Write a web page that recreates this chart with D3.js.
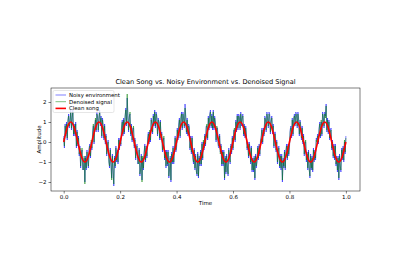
<!DOCTYPE html>
<html><head><meta charset="utf-8">
<script src="https://cdn.jsdelivr.net/npm/d3@7"></script>
<style>body{margin:0;background:#fff}svg{display:block;font-family:"DejaVu Sans",sans-serif}</style>
</head><body>
<svg id="c" width="400" height="280"></svg>
<script>
const title = "Clean Song vs. Noisy Environment vs. Denoised Signal";
const xTicks = [0.0, 0.2, 0.4, 0.6, 0.8, 1.0];
const yTicks = [-2, -1, 0, 1, 2];
const seriesNames = ["Noisy environment", "Denoised signal", "Clean song"];
// clean song sampled every 0.0125 s
const clean = [0,.71,1,.71,0,-.71,-1,-.71, 0,.71,1,.71,0,-.71,-1,-.71, 0,.71,1,.71,0,-.71,-1,-.71,
 0,.71,1,.71,0,-.71,-1,-.71, 0,.71,1,.71,0,-.71,-1,-.71, 0,.71,1,.71,0,-.71,-1,-.71,
 0,.71,1,.71,0,-.71,-1,-.71, 0,.71,1,.71,0,-.71,-1,-.71, 0,.71,1,.71,0,-.71,-1,-.71,
 0,.71,1,.71,0,-.71,-1,-.71, 0];
// noisy environment sampled every 0.0025 s
const noisy = [
 0.3,-0.3,0.9,0.3,1.0,0.1,1.0,1.4,0.7,1.1,1.6,0.6,1.3,1.6,0.3,0.9,0.3,1.0,-0.3,0.6,
 -0.2,0.3,-0.7,-0.2,-1.3,-0.6,-0.4,-1.4,-1.3,-0.8,-2.0,-0.7,-1.4,-0.4,-1.0,-1.3,-0.3,-0.1,-0.8,0.0,
 -0.4,0.5,0.8,-0.1,0.8,1.1,0.5,1.5,1.2,0.5,1.3,1.6,0.8,1.3,0.2,1.2,0.7,0.1,0.9,-0.1,
 0.4,-0.7,-0.1,0.1,-0.9,-1.3,-0.3,-1.1,-1.8,-0.6,-1.5,-2.2,-0.7,-1.3,-0.2,-1.0,-0.4,-1.1,0.2,-0.4,
 0.2,-0.2,0.7,1.1,0.3,1.2,0.4,1.2,1.7,0.8,2.2,1.3,0.5,1.3,1.4,0.3,0.9,0.0,0.7,0.7,
 -0.3,0.2,-0.9,-0.2,-0.1,-1.1,-1.0,-0.3,-1.7,-1.3,-0.6,-1.9,-0.8,-1.4,-0.5,-0.1,-1.0,-0.2,-0.8,0.2,
 0.5,-0.1,0.5,0.0,1.2,1.0,0.4,1.4,0.8,1.6,0.7,1.5,1.3,0.3,1.2,0.9,0.1,1.1,0.1,0.5,
 -0.5,0.1,0.2,-0.9,-0.4,-1.3,-0.4,-1.2,-0.4,-1.8,-1.4,-0.7,-2.0,-0.5,-1.1,-0.2,-1.1,-0.3,0.3,-0.5,
 -0.3,0.7,0.1,0.9,1.2,0.2,1.1,1.5,0.6,1.5,1.2,0.7,1.9,1.3,0.4,1.2,0.3,0.9,0.8,-0.4,
 0.3,-0.6,0.3,-0.7,-1.1,-0.3,-1.4,-0.6,-1.4,-1.7,-0.5,-1.8,-0.7,-1.2,-0.4,-1.2,0.0,-0.9,0.0,-0.4,
 0.4,-0.2,0.8,0.8,0.1,1.3,0.6,1.4,1.6,0.7,1.4,0.6,1.6,0.6,1.3,1.0,0.0,0.7,0.7,-0.2,
 -0.3,0.4,-0.5,-0.1,-1.2,-0.4,-1.2,-0.4,-1.9,-0.7,-1.6,-0.6,-1.3,-1.7,-0.3,-0.9,-1.1,-0.1,-0.6,0.3,
 -0.4,0.6,0.6,0.0,1.1,0.5,1.4,0.6,1.4,1.3,0.6,1.5,0.8,1.3,1.4,0.3,0.9,0.2,0.8,0.4,
 -0.4,0.0,-0.8,0.0,-0.3,-1.1,-0.2,-1.5,-0.8,-1.5,-0.7,-1.9,-0.6,-1.3,-1.0,-0.2,-0.9,-0.1,-0.7,0.0,
 0.3,0.7,-0.1,0.7,0.3,1.3,1.2,0.5,1.5,1.2,0.7,1.5,1.4,0.4,1.1,1.3,0.4,0.9,-0.3,0.5,
 0.5,-0.5,0.1,-1.1,-0.4,-0.2,-1.3,-0.6,-1.4,-0.6,-2.0,-0.8,-1.3,-0.4,-1.4,-0.4,-0.1,-0.9,-0.1,-0.7,
 -0.3,0.6,0.8,0.2,1.2,0.3,1.1,1.4,0.8,1.5,1.4,0.7,1.5,1.2,0.3,1.1,0.8,0.1,0.8,-0.1,
 0.4,-0.7,0.0,0.0,-1.0,-0.5,-1.4,-0.4,-1.3,-1.8,-0.6,-1.4,-0.7,-1.5,-0.3,-1.0,-0.4,-0.9,0.2,0.1,
 0.4,-0.1,0.7,1.0,0.2,1.0,0.3,1.5,1.3,0.7,1.5,1.3,1.9,0.5,1.2,0.4,1.1,0.1,0.6,0.7,
 -0.4,0.1,-0.8,-0.1,-0.9,-0.1,-1.2,-0.7,-1.5,-0.7,-1.9,-0.6,-1.3,-1.5,-0.3,-0.9,-0.2,-1.0,0.0,-0.6,
 0.3];
// denoised signal sampled every 0.0025 s
const denoised = [
 0.2,-0.2,0.8,0.4,0.9,0.2,1.1,1.3,0.8,1.0,1.5,0.7,1.2,1.5,0.4,0.8,0.4,0.9,-0.2,0.5,
 -0.1,0.2,-0.6,-0.3,-1.2,-0.7,-0.3,-1.3,-1.4,-0.7,-2.1,-0.8,-1.3,-0.5,-0.9,-1.2,-0.4,-0.2,-0.7,0.1,
 -0.3,0.4,0.9,0.0,0.7,1.2,0.6,1.4,1.3,0.6,1.2,1.5,0.9,1.2,0.3,1.1,0.8,0.2,0.8,0.0,
 0.3,-0.6,-0.2,0.0,-1.0,-1.2,-0.4,-1.0,-1.9,-0.7,-1.4,-2.1,-0.8,-1.2,-0.3,-0.9,-0.5,-1.0,0.1,-0.3,
 0.1,-0.1,0.8,1.0,0.4,1.1,0.5,1.3,1.6,0.9,2.4,1.2,0.6,1.2,1.5,0.4,0.8,0.1,0.6,0.8,
 -0.2,0.1,-0.8,-0.3,-0.2,-1.0,-1.1,-0.4,-1.6,-1.4,-0.7,-2.0,-0.7,-1.3,-0.6,-0.2,-0.9,-0.3,-0.7,0.1,
 0.4,0.0,0.6,0.1,1.1,0.9,0.5,1.3,0.9,1.5,0.8,1.4,1.2,0.4,1.1,1.0,0.2,1.0,0.2,0.4,
 -0.4,0.0,0.3,-0.8,-0.5,-1.2,-0.5,-1.1,-0.5,-1.7,-1.3,-0.8,-1.9,-0.6,-1.0,-0.3,-1.0,-0.4,0.2,-0.4,
 -0.2,0.6,0.2,0.8,1.1,0.3,1.2,1.4,0.7,1.4,1.1,0.8,1.7,1.2,0.5,1.1,0.4,0.8,0.7,-0.3,
 0.2,-0.5,0.2,-0.8,-1.0,-0.4,-1.3,-0.7,-1.5,-1.6,-0.6,-1.7,-0.8,-1.1,-0.5,-1.1,-0.1,-0.8,0.1,-0.3,
 0.3,-0.1,0.7,0.9,0.2,1.2,0.7,1.3,1.5,0.8,1.3,0.7,1.5,0.7,1.2,0.9,0.1,0.8,0.6,-0.1,
 -0.2,0.3,-0.6,-0.2,-1.1,-0.5,-1.1,-0.5,-1.8,-0.8,-1.5,-0.7,-1.2,-1.6,-0.4,-0.8,-1.0,-0.2,-0.5,0.2,
 -0.3,0.5,0.7,0.1,1.0,0.6,1.3,0.7,1.3,1.2,0.7,1.4,0.9,1.2,1.3,0.4,0.8,0.3,0.7,0.3,
 -0.3,-0.1,-0.7,-0.1,-0.4,-1.0,-0.3,-1.4,-0.9,-1.4,-0.8,-1.8,-0.7,-1.2,-0.9,-0.3,-0.8,-0.2,-0.6,0.1,
 0.2,0.6,0.0,0.6,0.4,1.2,1.1,0.6,1.4,1.1,0.8,1.4,1.3,0.5,1.0,1.2,0.5,0.8,-0.2,0.4,
 0.4,-0.4,0.0,-1.0,-0.5,-0.3,-1.2,-0.7,-1.3,-0.7,-1.9,-0.9,-1.2,-0.5,-1.3,-0.5,-0.2,-0.8,-0.2,-0.6,
 -0.2,0.5,0.7,0.3,1.1,0.4,1.2,1.3,0.9,1.4,1.3,0.8,1.4,1.1,0.4,1.0,0.7,0.2,0.7,0.0,
 0.3,-0.6,-0.1,0.1,-0.9,-0.6,-1.3,-0.5,-1.4,-1.7,-0.7,-1.3,-0.8,-1.4,-0.4,-0.9,-0.5,-0.8,0.1,0.0,
 0.3,0.0,0.6,0.9,0.3,1.1,0.4,1.4,1.2,0.8,1.4,1.2,1.8,0.6,1.1,0.5,1.0,0.2,0.5,0.6,
 -0.3,0.0,-0.7,-0.2,-0.8,-0.2,-1.1,-0.8,-1.4,-0.8,-1.8,-0.7,-1.2,-1.4,-0.4,-0.8,-0.3,-0.9,0.1,-0.5,
 0.2];

const svg = d3.select("#c");
const L = 51, R = 360, T = 88, B = 191;
const x = d3.scaleLinear().domain([-0.045, 1.05]).range([L, R]);
const y = d3.scaleLinear().domain([-2.45, 2.7]).range([B, T]);

svg.append("defs").append("clipPath").attr("id","clip")
  .append("rect").attr("x",L).attr("y",T).attr("width",R-L).attr("height",B-T);

const g = svg.append("g").attr("clip-path","url(#clip)");
const toPts = arr => arr.map((v,i)=>({t:i/(arr.length-1), v}));
const line = d3.line().x(d=>x(d.t)).y(d=>y(d.v));
g.append("path").datum(toPts(noisy)).attr("d",line).attr("fill","none")
  .attr("stroke","blue").attr("stroke-opacity",0.5).attr("stroke-width",1);
g.append("path").datum(toPts(denoised)).attr("d",line).attr("fill","none")
  .attr("stroke","green").attr("stroke-opacity",0.5).attr("stroke-width",1);
g.append("path").datum(toPts(clean)).attr("d",d3.line().x(d=>x(d.t)).y(d=>y(d.v)).curve(d3.curveNatural))
  .attr("fill","none").attr("stroke","red").attr("stroke-width",1.6);

// axes
const fs = 5.5;
const xa = svg.append("g").attr("transform",`translate(0,${B})`)
  .call(d3.axisBottom(x).tickValues(xTicks).tickFormat(d3.format(".1f")).tickSize(2.5).tickPadding(2));
const ya = svg.append("g").attr("transform",`translate(${L},0)`)
  .call(d3.axisLeft(y).tickValues(yTicks).tickFormat(d=>d<0?"\u2212"+Math.abs(d):d).tickSize(2.5).tickPadding(2));
[xa,ya].forEach(a=>{a.select(".domain").remove();
  a.selectAll("line").attr("stroke","#000").attr("stroke-width",0.5);
  a.selectAll("text").attr("font-size",fs).attr("font-family","DejaVu Sans").attr("fill","#000");});
svg.append("rect").attr("x",L).attr("y",T).attr("width",R-L).attr("height",B-T)
  .attr("fill","none").attr("stroke","#000").attr("stroke-width",0.5);

svg.append("text").attr("x",(L+R)/2).attr("y",T-4).attr("text-anchor","middle")
  .attr("font-size",6.6).text(title);
svg.append("text").attr("x",(L+R)/2).attr("y",205).attr("text-anchor","middle")
  .attr("font-size",fs).text("Time");
svg.append("text").attr("transform",`translate(41,${(T+B)/2}) rotate(-90)`).attr("text-anchor","middle")
  .attr("font-size",fs).text("Amplitude");

// legend
const lg = svg.append("g").attr("transform",`translate(${L+2},${T+2.5})`);
lg.append("rect").attr("width",61).attr("height",22).attr("rx",1.5)
  .attr("fill","#fff").attr("fill-opacity",0.8).attr("stroke","#ccc").attr("stroke-width",0.5);
const lc = [{c:"blue",o:0.5,w:1},{c:"green",o:0.5,w:1},{c:"red",o:1,w:1.6}];
seriesNames.forEach((n,i)=>{
  const yy = 4.5 + i*6.7;
  lg.append("line").attr("x1",2.5).attr("x2",13).attr("y1",yy).attr("y2",yy)
    .attr("stroke",lc[i].c).attr("stroke-opacity",lc[i].o).attr("stroke-width",lc[i].w);
  lg.append("text").attr("x",16).attr("y",yy+2).attr("font-size",5.4).text(n);
});
</script>
</body></html>
